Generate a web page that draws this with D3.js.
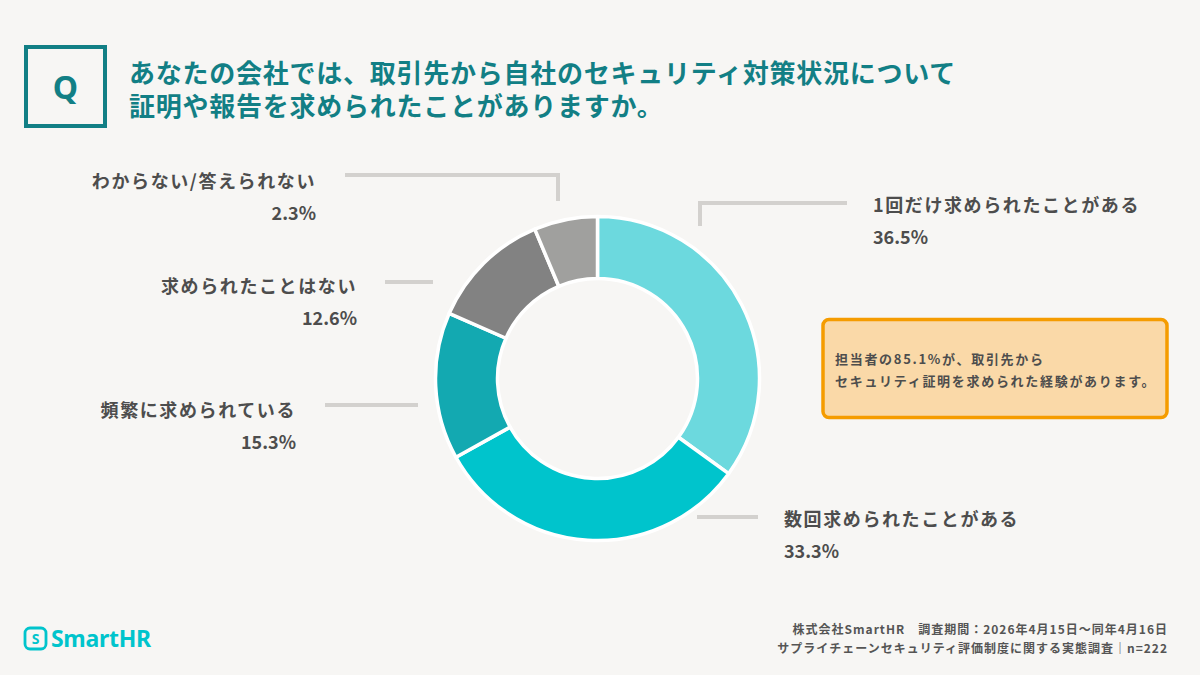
<!DOCTYPE html>
<html>
<head>
<meta charset="utf-8">
<script src="https://cdn.jsdelivr.net/npm/d3@7"></script>
<style>
	body { margin: 0; background: #f7f6f4; }
	svg { display: block; font-family: "Noto Sans CJK JP", "Noto Sans", sans-serif; }
</style>
</head>
<body>
<svg id="chart" width="1200" height="675"></svg>
<script>
// data
const categories = ['1回だけ求められたことがある', '数回求められたことがある', '頻繁に求められている', '求められたことはない', 'わからない/答えられない'];
const pctLabels = ['36.5%', '33.3%', '15.3%', '12.6%', '2.3%'];
// slice sizes as drawn in the picture (last slice is drawn larger than its label)
const sliceValues = [36.5, 33.3, 15.3, 12.6, 6.6];
const colors = ['#6cd9de', '#00c4cc', '#13a9b1', '#828282', '#a0a09e'];

const titleLines = ['あなたの会社では、取引先から自社のセキュリティ対策状況について', '証明や報告を求められたことがありますか。'];
const calloutLines = ['担当者の85.1%が、取引先から', 'セキュリティ証明を求められた経験があります。'];
const footerLines = ['株式会社SmartHR　調査期間：2026年4月15日〜同年4月16日', 'サプライチェーンセキュリティ評価制度に関する実態調査｜n=222'];

// label layout: leader polyline + text anchor, in the same order as categories
const labelLayout = [
	{ line: [[700, 226], [700, 203], [847, 203]], x: 873, y: 212, anchor: 'start' },
	{ line: [[697, 517], [758, 517]], x: 784, y: 526, anchor: 'start' },
	{ line: [[325, 405], [418, 405]], x: 296, y: 417, anchor: 'end' },
	{ line: [[385, 282], [433, 282]], x: 357, y: 293, anchor: 'end' },
	{ line: [[345, 175], [558, 175], [558, 201]], x: 316, y: 188, anchor: 'end' }
];

const svg = d3.select('#chart');
const teal = '#127f85';
const textCol = '#4d4d4d';

svg.append('rect')
	.attr('width', 1200)
	.attr('height', 675)
	.style('fill', '#f7f6f4');

// Q box
svg.append('rect')
	.attr('x', 26)
	.attr('y', 47)
	.attr('width', 79)
	.attr('height', 79)
	.style('fill', 'none')
	.style('stroke', teal)
	.style('stroke-width', 4);

svg.append('text')
	.attr('x', 65.5)
	.attr('y', 99)
	.attr('text-anchor', 'middle')
	.style('font-family', '"Noto Sans", sans-serif')
	.style('font-size', '32px')
	.style('font-weight', 700)
	.style('fill', teal)
	.text('Q');

// title (one text, two tspans)
svg.append('text')
	.style('font-size', '26px')
	.style('font-weight', 700)
	.style('letter-spacing', '0.75px')
	.style('fill', teal)
	.selectAll('tspan')
	.data(titleLines)
	.join('tspan')
	.attr('x', 129)
	.attr('y', (d, i) => 83 + i * 33)
	.text(d => d);

// donut
const cx = 597.5, cy = 378.5;
const pie = d3.pie().sort(null).value(d => d);
const arc = d3.arc().innerRadius(100).outerRadius(162);

const donut = svg.append('g')
	.attr('transform', 'translate(' + cx + ',' + cy + ')');

donut.selectAll('path')
	.data(pie(sliceValues))
	.join('path')
	.attr('d', arc)
	.style('fill', (d, i) => colors[i])
	.style('stroke', '#ffffff')
	.style('stroke-width', 3.5)
	.style('stroke-linejoin', 'round');

// leader lines
const line = d3.line();
svg.append('g')
	.selectAll('path')
	.data(labelLayout)
	.join('path')
	.attr('d', d => line(d.line))
	.style('fill', 'none')
	.style('stroke', '#d3d1ce')
	.style('stroke-width', 4);

// labels
const labels = svg.append('g')
	.selectAll('g')
	.data(categories)
	.join('g');

labels.append('text')
	.attr('x', (d, i) => labelLayout[i].x)
	.attr('y', (d, i) => labelLayout[i].y)
	.attr('text-anchor', (d, i) => labelLayout[i].anchor)
	.style('font-size', '18px')
	.style('font-weight', 700)
	.style('letter-spacing', '1.6px')
	.style('fill', textCol)
	.text(d => d);

labels.append('text')
	.attr('x', (d, i) => labelLayout[i].x)
	.attr('y', (d, i) => labelLayout[i].y + 32)
	.attr('text-anchor', (d, i) => labelLayout[i].anchor)
	.style('font-size', '18px')
	.style('font-weight', 700)
	.style('fill', textCol)
	.text((d, i) => pctLabels[i]);

// callout
svg.append('rect')
	.attr('x', 823)
	.attr('y', 319.5)
	.attr('width', 344)
	.attr('height', 98)
	.attr('rx', 6)
	.style('fill', '#fad9a8')
	.style('stroke', '#f59c00')
	.style('stroke-width', 3.5);

svg.append('g')
	.selectAll('text')
	.data(calloutLines)
	.join('text')
	.attr('x', 835)
	.attr('y', (d, i) => 364 + i * 22)
	.style('font-size', '13px')
	.style('font-weight', 700)
	.style('letter-spacing', '1.7px')
	.style('fill', textCol)
	.text(d => d);

// footer
svg.append('g')
	.selectAll('text')
	.data(footerLines)
	.join('text')
	.attr('x', 1168)
	.attr('y', (d, i) => 634 + i * 19)
	.attr('text-anchor', 'end')
	.style('font-size', '12px')
	.style('font-weight', 700)
	.style('letter-spacing', '1px')
	.style('fill', '#555555')
	.text(d => d);

// logo
const logo = svg.append('g');
logo.append('rect')
	.attr('x', 25)
	.attr('y', 628)
	.attr('width', 21)
	.attr('height', 21)
	.attr('rx', 5)
	.style('fill', 'none')
	.style('stroke', '#00c4cc')
	.style('stroke-width', 2.8);

logo.append('text')
	.attr('x', 35.5)
	.attr('y', 644)
	.attr('text-anchor', 'middle')
	.style('font-family', '"Noto Sans", sans-serif')
	.style('font-size', '14px')
	.style('font-weight', 700)
	.style('fill', '#00c4cc')
	.text('S');

logo.append('text')
	.attr('x', 51)
	.attr('y', 647)
	.style('font-family', '"Noto Sans", sans-serif')
	.style('font-size', '23px')
	.style('font-weight', 700)
	.style('letter-spacing', '-0.3px')
	.style('fill', '#00c4cc')
	.text('SmartHR');
</script>
</body>
</html>
